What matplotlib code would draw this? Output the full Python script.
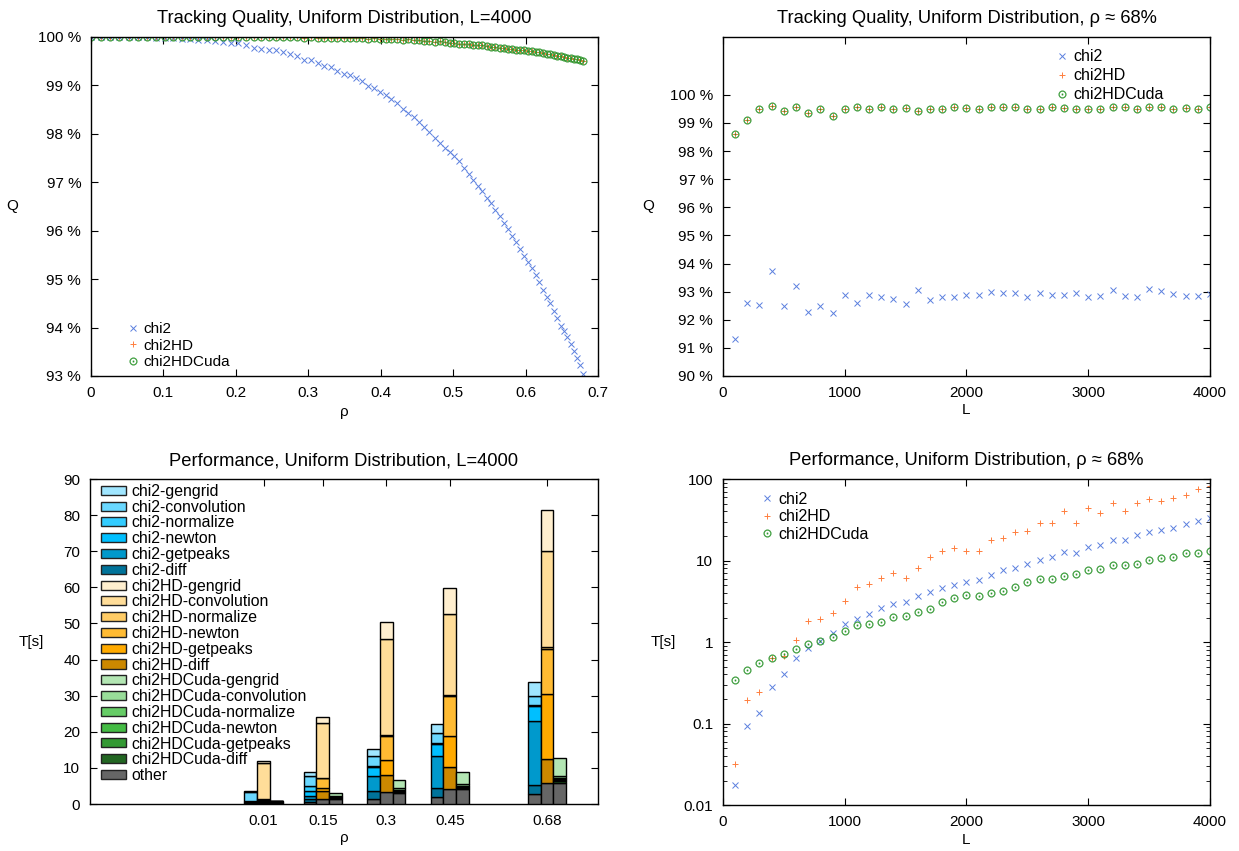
import numpy as np
import matplotlib
matplotlib.use('Agg')
import matplotlib.pyplot as plt
from matplotlib.patches import Patch
from matplotlib.ticker import FuncFormatter, LogLocator, NullFormatter

plt.rcParams['font.family'] = ['Liberation Sans', 'DejaVu Sans']
plt.rcParams['font.size'] = 11
plt.rcParams['mathtext.fontset'] = 'dejavusans'

# ---- top left: Q vs rho, L=4000 ----
rho = [0.0000, 0.0133, 0.0264, 0.0394, 0.0522, 0.0648, 0.0773, 0.0895, 0.1017, 0.1136,
       0.1254, 0.1371, 0.1485, 0.1599, 0.1711, 0.1821, 0.1930, 0.2037, 0.2143, 0.2248,
       0.2351, 0.2453, 0.2553, 0.2652, 0.2750, 0.2847, 0.2942, 0.3036, 0.3129, 0.3220,
       0.3310, 0.3399, 0.3487, 0.3574, 0.3659, 0.3744, 0.3827, 0.3909, 0.3990, 0.4070,
       0.4149, 0.4227, 0.4304, 0.4380, 0.4455, 0.4528, 0.4601, 0.4673, 0.4744, 0.4814,
       0.4883, 0.4951, 0.5018, 0.5085, 0.5150, 0.5215, 0.5278, 0.5341, 0.5403, 0.5464,
       0.5525, 0.5584, 0.5643, 0.5701, 0.5758, 0.5815, 0.5870, 0.5925, 0.5980, 0.6033,
       0.6086, 0.6138, 0.6190, 0.6240, 0.6290, 0.6340, 0.6388, 0.6436, 0.6484, 0.6531,
       0.6577, 0.6622, 0.6667, 0.6712, 0.6756, 0.6799]
q_chi2 = [100.00, 100.00, 100.00, 100.00, 100.00, 99.99, 99.99, 99.98, 99.97, 99.97,
          99.96, 99.95, 99.94, 99.93, 99.92, 99.90, 99.88, 99.87, 99.84, 99.78,
          99.75, 99.73, 99.72, 99.68, 99.64, 99.60, 99.53, 99.52, 99.47, 99.39,
          99.38, 99.30, 99.24, 99.22, 99.15, 99.08, 98.99, 98.95, 98.86, 98.80,
          98.72, 98.63, 98.52, 98.42, 98.35, 98.25, 98.14, 98.03, 97.92, 97.82,
          97.70, 97.62, 97.55, 97.44, 97.30, 97.18, 97.05, 96.93, 96.82, 96.68,
          96.57, 96.43, 96.30, 96.15, 96.03, 95.90, 95.77, 95.63, 95.48, 95.35,
          95.22, 95.08, 94.93, 94.78, 94.64, 94.50, 94.35, 94.20, 94.03, 93.93,
          93.80, 93.66, 93.52, 93.38, 93.22, 93.05]
q_chi2hd = [100.00, 100.00, 100.00, 100.00, 100.00, 100.00, 100.00, 100.00, 100.00, 100.00,
            100.00, 100.00, 100.00, 100.00, 100.00, 100.00, 100.00, 100.00, 100.00, 100.00,
            100.00, 99.99, 99.99, 100.00, 99.99, 99.99, 99.98, 99.99, 99.98, 99.98,
            99.98, 99.98, 99.97, 99.98, 99.97, 99.97, 99.96, 99.97, 99.96, 99.95,
            99.96, 99.95, 99.94, 99.95, 99.93, 99.93, 99.92, 99.92, 99.90, 99.91,
            99.89, 99.88, 99.88, 99.86, 99.86, 99.85, 99.84, 99.83, 99.83, 99.81,
            99.80, 99.79, 99.78, 99.78, 99.76, 99.75, 99.74, 99.73, 99.72, 99.71,
            99.70, 99.69, 99.68, 99.66, 99.65, 99.64, 99.63, 99.61, 99.60, 99.59,
            99.57, 99.56, 99.55, 99.54, 99.52, 99.51]
q_chi2hdcuda = [100.00, 100.00, 100.00, 100.00, 100.00, 100.00, 100.00, 100.00, 100.00, 100.00,
                100.00, 100.00, 100.00, 100.00, 100.00, 100.00, 100.00, 100.00, 100.00, 100.00,
                100.00, 99.99, 99.99, 100.00, 99.99, 99.99, 99.98, 99.99, 99.98, 99.98,
                99.98, 99.98, 99.97, 99.98, 99.97, 99.97, 99.96, 99.97, 99.96, 99.95,
                99.96, 99.95, 99.94, 99.95, 99.93, 99.93, 99.92, 99.92, 99.90, 99.91,
                99.89, 99.88, 99.88, 99.86, 99.86, 99.85, 99.84, 99.83, 99.83, 99.81,
                99.80, 99.79, 99.78, 99.78, 99.76, 99.75, 99.74, 99.73, 99.72, 99.71,
                99.70, 99.69, 99.68, 99.66, 99.65, 99.64, 99.63, 99.61, 99.60, 99.59,
                99.57, 99.56, 99.55, 99.54, 99.52, 99.51]

# ---- L sweep (rho ~ 68%) ----
L = [100, 200, 300, 400, 500, 600, 700, 800, 900, 1000,
     1100, 1200, 1300, 1400, 1500, 1600, 1700, 1800, 1900, 2000,
     2100, 2200, 2300, 2400, 2500, 2600, 2700, 2800, 2900, 3000,
     3100, 3200, 3300, 3400, 3500, 3600, 3700, 3800, 3900, 4000]
qL_chi2 = [91.31, 92.61, 92.52, 93.75, 92.48, 93.21, 92.28, 92.48, 92.25, 92.87,
           92.59, 92.88, 92.81, 92.75, 92.56, 93.07, 92.70, 92.81, 92.81, 92.87,
           92.88, 92.99, 92.94, 92.94, 92.80, 92.94, 92.89, 92.88, 92.94, 92.80,
           92.86, 93.07, 92.86, 92.80, 93.09, 93.04, 92.93, 92.86, 92.86, 92.91]
qL_chi2hd = [98.60, 99.12, 99.50, 99.60, 99.43, 99.56, 99.36, 99.50, 99.24, 99.50,
             99.55, 99.50, 99.57, 99.50, 99.54, 99.44, 99.49, 99.49, 99.58, 99.54,
             99.50, 99.58, 99.58, 99.56, 99.50, 99.51, 99.55, 99.52, 99.51, 99.51,
             99.50, 99.56, 99.56, 99.50, 99.56, 99.55, 99.51, 99.54, 99.49, 99.56]
qL_chi2hdcuda = [98.60, 99.12, 99.50, 99.60, 99.43, 99.56, 99.36, 99.50, 99.24, 99.50,
                 99.55, 99.50, 99.57, 99.50, 99.54, 99.44, 99.49, 99.49, 99.58, 99.54,
                 99.50, 99.58, 99.58, 99.56, 99.50, 99.51, 99.55, 99.52, 99.51, 99.51,
                 99.50, 99.56, 99.56, 99.50, 99.56, 99.55, 99.51, 99.54, 99.49, 99.56]
tL_chi2 = [0.0175, 0.093, 0.136, 0.282, 0.40, 0.63, 0.85, 1.04, 1.29, 1.68,
           1.92, 2.23, 2.59, 2.90, 3.06, 3.70, 4.10, 4.59, 4.94, 5.53,
           5.69, 6.62, 7.69, 8.21, 9.11, 10.2, 11.0, 12.9, 12.5, 14.7,
           15.6, 17.9, 17.9, 20.6, 22.5, 23.8, 25.4, 27.9, 30.9, 33.0]
tL_chi2hd = [0.0316, 0.192, 0.247, 0.64, 0.67, 1.07, 1.81, 1.90, 2.27, 3.18,
             4.72, 5.14, 6.14, 7.01, 6.09, 8.21, 10.9, 13.0, 14.4, 13.1,
             13.1, 17.9, 18.8, 22.2, 23.3, 28.7, 28.7, 40.9, 29.2, 43.7,
             38.0, 51.3, 40.3, 51.3, 56.4, 53.8, 58.5, 63.7, 74.8, 82.8]
tL_chi2hdcuda = [0.347, 0.455, 0.56, 0.64, 0.71, 0.82, 0.955, 1.04, 1.16, 1.35,
                 1.62, 1.66, 1.74, 2.05, 2.07, 2.34, 2.54, 3.06, 3.47, 3.73,
                 3.70, 4.03, 4.18, 4.77, 5.38, 5.92, 5.92, 6.44, 6.93, 7.62,
                 7.91, 8.79, 8.79, 9.11, 10.2, 10.6, 11.2, 12.2, 12.4, 13.2]

# ---- stacked timings, L=4000 ----
rho_bars = [0.01, 0.15, 0.3, 0.45, 0.68]
rho_labels = ['0.01', '0.15', '0.3', '0.45', '0.68']
stages = ['gengrid', 'convolution', 'normalize', 'newton', 'getpeaks', 'diff']
t_chi2 = {
    'gengrid':     [0.47, 1.3, 2.0, 2.6, 3.9],
    'convolution': [2.4, 2.7, 2.6, 2.8, 2.4],
    'normalize':   [0.13, 1.5, 0.3, 0.3, 0.35],
    'newton':      [0.1, 1.2, 2.5, 3.2, 4.0],
    'getpeaks':    [0.2, 0.9, 4.1, 8.8, 17.8],
    'diff':        [0.25, 0.8, 2.2, 2.7, 2.6],
}
t_chi2hd = {
    'gengrid':     [0.35, 1.6, 4.7, 7.4, 11.3],
    'convolution': [10.07, 15.1, 26.5, 22.4, 26.8],
    'normalize':   [0.25, 0.2, 0.3, 0.3, 0.3],
    'newton':      [0.2, 2.6, 6.5, 10.9, 12.7],
    'getpeaks':    [0.4, 0.9, 4.3, 8.7, 17.9],
    'diff':        [0.35, 2.3, 4.8, 6.1, 6.75],
}
t_chi2hdcuda = {
    'gengrid':     [0.05, 0.75, 2.3, 3.5, 4.9],
    'convolution': [0.07, 0.2, 0.4, 0.5, 0.65],
    'normalize':   [0.05, 0.12, 0.15, 0.2, 0.2],
    'newton':      [0.05, 0.1, 0.15, 0.15, 0.2],
    'getpeaks':    [0.1, 0.15, 0.2, 0.3, 0.5],
    'diff':        [0.35, 0.2, 0.3, 0.3, 0.5],
}
other_chi2 = [0.15, 0.6, 1.5, 1.85, 2.7]
other_chi2hd = [0.2, 1.3, 3.2, 4.1, 5.7]
other_chi2hdcuda = [0.25, 1.45, 3.1, 4.05, 5.75]

col_chi2 = {'gengrid': '#a0e6ff', 'convolution': '#6ad8ff', 'normalize': '#33ccff',
            'newton': '#00bfff', 'getpeaks': '#0099cc', 'diff': '#00739a'}
col_hd = {'gengrid': '#ffefcf', 'convolution': '#ffdd99', 'normalize': '#ffcc66',
          'newton': '#ffbb33', 'getpeaks': '#ffaa00', 'diff': '#cc8800'}
col_cuda = {'gengrid': '#b3e6b3', 'convolution': '#99dd99', 'normalize': '#66cc66',
            'newton': '#44bb44', 'getpeaks': '#339933', 'diff': '#226622'}
col_other = '#666666'

c_blue = '#5b7fde'
c_orange = '#ff7f3e'
c_green = '#2e962e'


def style_axes(ax):
    ax.tick_params(direction='in', top=True, right=True, length=5, width=0.8, pad=7)
    ax.tick_params(which='minor', direction='in', top=True, right=True, length=3)
    for s in ax.spines.values():
        s.set_linewidth(1.0)


def scatter3(ax, x, y1, y2, y3):
    h1, = ax.plot(x, y1, ls='none', marker='x', ms=5, mew=0.7, color=c_blue, label='chi2')
    h2, = ax.plot(x, y2, ls='none', marker='+', ms=5, mew=0.7, color=c_orange, label='chi2HD')
    h3, = ax.plot(x, y3, ls='none', marker='$\\odot$', ms=5.5, mew=0.2, color=c_green, label='chi2HDCuda')
    return [h1, h2, h3]


pct = FuncFormatter(lambda v, p: '%d %%' % round(v))

fig = plt.figure(figsize=(12.39, 8.51), dpi=100)

# top left
ax1 = fig.add_axes([0.0734, 0.5582, 0.4092, 0.3984])
hs = scatter3(ax1, rho, q_chi2, q_chi2hd, q_chi2hdcuda)
ax1.set_xlim(0, 0.7)
ax1.set_ylim(93, 100)
ax1.set_xticks([0, 0.1, 0.2, 0.3, 0.4, 0.5, 0.6, 0.7])
ax1.set_xticklabels(['0', '0.1', '0.2', '0.3', '0.4', '0.5', '0.6', '0.7'])
ax1.set_yticks(range(93, 101))
ax1.yaxis.set_major_formatter(pct)
ax1.set_title('Tracking Quality, Uniform Distribution, L=4000', pad=10)
ax1.set_xlabel('ρ', va='center')
ax1.xaxis.set_label_coords(0.5, -0.106)
ax1.set_ylabel('Q', rotation=0, ha='center', va='center')
ax1.yaxis.set_label_coords(-0.156, 0.5)
ax1.legend(handles=hs, loc='lower left', bbox_to_anchor=(0.074, 0.021), frameon=False,
           handlelength=0.6, handletextpad=0.4, borderpad=0, borderaxespad=0, labelspacing=0.15)
style_axes(ax1)

# top right
ax2 = fig.add_axes([0.5835, 0.5582, 0.3931, 0.3984])
hs = scatter3(ax2, L, qL_chi2, qL_chi2hd, qL_chi2hdcuda)
ax2.set_xlim(0, 4000)
ax2.set_ylim(90, 102.06)
ax2.set_xticks([0, 1000, 2000, 3000, 4000])
ax2.set_yticks(range(90, 101))
ax2.yaxis.set_major_formatter(pct)
ax2.set_title('Tracking Quality, Uniform Distribution, ρ ≈ 68%', pad=10)
ax2.set_xlabel('L', va='center')
ax2.xaxis.set_label_coords(0.5, -0.1)
ax2.set_ylabel('Q', rotation=0, ha='center', va='center')
ax2.yaxis.set_label_coords(-0.154, 0.5)
ax2.legend(handles=hs, loc='upper left', bbox_to_anchor=(0.687, 0.964), frameon=False,
           handlelength=0.6, handletextpad=0.4, borderpad=0, borderaxespad=0, labelspacing=0.26,
           fontsize=11.5)
style_axes(ax2)

# bottom left: stacked bars
ax3 = fig.add_axes([0.0726, 0.0552, 0.41, 0.3819])
w = 0.03
groups = [(-w, t_chi2, other_chi2, col_chi2),
          (0.0, t_chi2hd, other_chi2hd, col_hd),
          (w, t_chi2hdcuda, other_chi2hdcuda, col_cuda)]
for off, tab, oth, cols in groups:
    xs = np.array(rho_bars) + off
    bottom = np.zeros(len(rho_bars))
    ax3.bar(xs, oth, width=w, bottom=bottom, color=col_other, edgecolor='black', linewidth=1.0, zorder=3)
    bottom += np.array(oth)
    for st in reversed(stages):
        ax3.bar(xs, tab[st], width=w, bottom=bottom, color=cols[st], edgecolor='black',
                linewidth=1.0, zorder=3)
        bottom += np.array(tab[st])
handles = []
for name, cols in [('chi2', col_chi2), ('chi2HD', col_hd), ('chi2HDCuda', col_cuda)]:
    for st in stages:
        handles.append(Patch(facecolor=cols[st], edgecolor='#222222', linewidth=1.0,
                             label='%s-%s' % (name, st)))
handles.append(Patch(facecolor=col_other, edgecolor='#222222', linewidth=1.0, label='other'))
ax3.legend(handles=handles, loc='upper left', bbox_to_anchor=(0.0217, 0.985), frameon=False,
           handlelength=1.6, handleheight=0.5, handletextpad=0.33, borderpad=0,
           borderaxespad=0, labelspacing=0.05, fontsize=11.4)
ax3.set_xlim(-0.4, 0.8)
ax3.set_ylim(0, 90)
ax3.set_xticks(rho_bars)
ax3.set_xticklabels(rho_labels)
ax3.set_yticks(range(0, 91, 10))
ax3.set_title('Performance, Uniform Distribution, L=4000', pad=10)
ax3.set_xlabel('ρ', va='center')
ax3.xaxis.set_label_coords(0.5, -0.105)
ax3.set_ylabel('T[s]', rotation=0, ha='center', va='center')
ax3.yaxis.set_label_coords(-0.116, 0.5)
style_axes(ax3)

# bottom right: log timings
ax4 = fig.add_axes([0.5835, 0.054, 0.3931, 0.3831])
hs = scatter3(ax4, L, tL_chi2, tL_chi2hd, tL_chi2hdcuda)
ax4.set_yscale('log')
ax4.set_xlim(0, 4000)
ax4.set_ylim(0.01, 100)
ax4.set_xticks([0, 1000, 2000, 3000, 4000])
ax4.yaxis.set_major_locator(LogLocator(base=10, numticks=10))
ax4.yaxis.set_minor_locator(LogLocator(base=10, subs=np.arange(2, 10), numticks=20))
ax4.yaxis.set_minor_formatter(NullFormatter())
ax4.yaxis.set_major_formatter(FuncFormatter(lambda v, p: '%g' % v))
ax4.set_title('Performance, Uniform Distribution, ρ ≈ 68%', pad=10)
ax4.set_xlabel('L', va='center')
ax4.xaxis.set_label_coords(0.5, -0.108)
ax4.set_ylabel('T[s]', rotation=0, ha='center', va='center')
ax4.yaxis.set_label_coords(-0.123, 0.5)
ax4.legend(handles=hs, loc='upper left', bbox_to_anchor=(0.081, 0.96), frameon=False,
           handlelength=0.6, handletextpad=0.4, borderpad=0, borderaxespad=0, labelspacing=0.15,
           fontsize=11.5)
style_axes(ax4)

fig.savefig('out.png', dpi=100)
